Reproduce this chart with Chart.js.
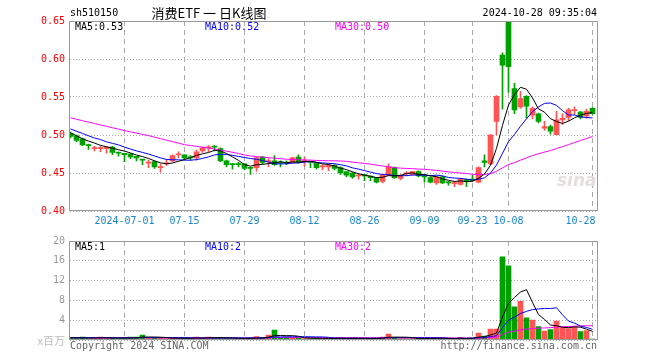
<!DOCTYPE html>
<html>
<head>
<meta charset="utf-8">
<script src="https://cdn.jsdelivr.net/npm/chart.js@4.4.1/dist/chart.umd.min.js"></script>
<style>
  body { margin:0; background:#fff; width:660px; height:360px; position:relative; overflow:hidden;
         font-family:"DejaVu Sans Mono", monospace; font-size:10px; }
  canvas { position:absolute; left:0; }
  .t { position:absolute; white-space:pre; line-height:10px; }
</style>
</head>
<body>
<canvas id="kline" width="660" height="232" style="top:0"></canvas>
<canvas id="vol" width="660" height="130" style="top:230px"></canvas>

<div class="t" style="left:70px;top:8px;color:#000">sh510150</div>
<div class="t" style="left:100px;width:218px;top:5px;line-height:15px;text-align:center;font-family:'Noto Sans CJK SC';font-size:13px;color:#000">消费ETF 一 日K线图</div>
<div class="t" style="right:63px;top:8px;color:#000">2024-10-28 09:35:04</div>
<div class="t" style="left:75px;top:22px;color:#000">MA5:0.53</div>
<div class="t" style="left:205px;top:22px;color:#0000ff">MA10:0.52</div>
<div class="t" style="left:335px;top:22px;color:#ff00ff">MA30:0.50</div>
<div class="t" style="left:557px;top:170px;font:italic bold 17px 'DejaVu Sans';color:#e6dede;line-height:20px">sina</div>

<div class="t" style="left:75px;top:242px;color:#000">MA5:1</div>
<div class="t" style="left:205px;top:242px;color:#0000ff">MA10:2</div>
<div class="t" style="left:335px;top:242px;color:#ff00ff">MA30:2</div>
<div class="t" style="right:595px;top:334px;line-height:12px;font-family:'Noto Sans CJK SC';font-size:11px;color:#bbb">x百万</div>
<div class="t" style="left:70px;top:341px;color:#666">Copyright 2024 SINA.COM</div>
<div class="t" style="right:63px;top:341px;color:#666">http://finance.sina.com.cn</div>

<script>
// 日K数据 2024-06-18 ~ 2024-10-28，共88个交易日
const tickIdx    = [9, 19, 29, 39, 49, 59, 67, 73, 87];
const tickLabels = ['2024-07-01', '07-15', '07-29', '08-12', '08-26', '09-09', '09-23', '10-08', '10-28'];

const openP = [
  .502,.499,.495,.487,.482,.482,.482,.484,.477,.476,
  .475,.472,.468,.463,.465,.457,.462,.466,.474,.474,
  .471,.470,.479,.483,.485,.482,.466,.462,.462,.462,
  .457,.457,.471,.465,.466,.464,.464,.464,.471,.465,
  .465,.463,.458,.458,.460,.457,.452,.450,.446,.448,
  .446,.444,.439,.447,.457,.443,.449,.448,.452,.446,
  .444,.437,.445,.438,.436,.435,.441,.442,.438,.466,
  .462,.518,.605,.650,.561,.537,.551,.526,.528,.509,
  .511,.5005,.520,.523,.532,.530,.525,.535
];
const closeP = [
  .498,.493,.487,.486,.483,.483,.484,.477,.476,.474,
  .471,.470,.467,.464,.458,.458,.463,.473,.475,.470,
  .470,.478,.483,.484,.484,.466,.461,.461,.461,.456,
  .456,.470,.464,.466,.461,.463,.463,.470,.464,.466,
  .464,.457,.459,.460,.456,.450,.447,.445,.447,.446,
  .444,.438,.447,.458,.444,.447,.450,.452,.446,.445,
  .438,.445,.437,.437,.437,.442,.440,.440,.457,.464,
  .500,.551,.592,.590,.533,.548,.538,.535,.518,.511,
  .505,.520,.522,.533,.533,.523,.531,.528
];
const highP = [
  .504,.500,.496,.488,.485,.485,.485,.485,.478,.476,
  .476,.472,.468,.467,.466,.462,.468,.474,.478,.474,
  .473,.480,.484,.486,.486,.483,.467,.462,.464,.462,
  .457,.471,.472,.469,.473,.466,.466,.471,.474,.471,
  .465,.464,.461,.462,.461,.458,.452,.451,.449,.448,
  .446,.444,.448,.462,.458,.448,.452,.452,.453,.447,
  .445,.446,.446,.439,.439,.443,.442,.447,.458,.474,
  .501,.552,.608,.651,.568,.557,.552,.537,.529,.518,
  .513,.531,.528,.535,.537,.531,.534,.536
];
const lowP = [
  .496,.491,.486,.481,.479,.478,.476,.474,.472,.465,
  .469,.466,.461,.457,.456,.451,.460,.465,.470,.468,
  .467,.467,.477,.478,.479,.465,.458,.455,.458,.454,
  .448,.452,.462,.458,.460,.458,.461,.463,.463,.459,
  .457,.455,.454,.453,.454,.448,.445,.443,.442,.440,
  .440,.437,.437,.446,.443,.441,.446,.447,.445,.438,
  .437,.435,.436,.434,.432,.434,.432,.439,.437,.458,
  .461,.500,.534,.556,.528,.535,.522,.521,.516,.506,
  .501,.500,.514,.519,.527,.521,.522,.527
];
const ma5 = [
  .503,.499,.495,.492,.4894,.4864,.4846,.4826,.4806,.4788,
  .4764,.4736,.4716,.4692,.466,.4634,.462,.4632,.4654,.4678,
  .4702,.4732,.4752,.477,.4798,.479,.4756,.4712,.4666,.461,
  .459,.4608,.4614,.4624,.4634,.4648,.4634,.4646,.4642,.4652,
  .4654,.4642,.462,.4612,.4592,.4564,.4544,.4516,.449,.447,
  .4458,.444,.4444,.4466,.4462,.4468,.4492,.4502,.4478,.448,
  .4462,.4452,.4422,.4404,.4388,.4396,.4386,.4392,.4432,.4486,
  .4602,.4824,.5128,.5394,.5532,.5628,.5602,.5488,.5344,.530,
  .5214,.5178,.5152,.5182,.5226,.5262,.5284,.5296
];
const ma10 = [
  .508,.505,.502,.499,.496,.494,.491,.489,.487,.4841,
  .4814,.4791,.4771,.4749,.4724,.4699,.4678,.4674,.4673,.4669,
  .4668,.4676,.4692,.4712,.4738,.4746,.4744,.4732,.4718,.4704,
  .469,.4682,.4663,.4645,.4622,.4619,.4621,.463,.4633,.4643,
  .4651,.4638,.4633,.4627,.4622,.4609,.4593,.4568,.4551,.4531,
  .4511,.4492,.448,.4478,.4466,.4463,.4466,.4473,.4472,.4471,
  .4465,.4472,.4462,.4441,.4434,.4429,.4419,.4407,.4418,.4437,
  .4499,.4605,.476,.4913,.5009,.5115,.5213,.5308,.5369,.5416,
  .5421,.539,.532,.5263,.5263,.5238,.5231,.5224
];
const ma30 = [
  .5226,.5207,.5188,.517,.5151,.5132,.5114,.5095,.5077,.5058,
  .5041,.5025,.5008,.4992,.4972,.4952,.4932,.4913,.4893,.4873,
  .4862,.4851,.484,.4829,.4815,.4801,.4787,.4773,.4756,.4738,
  .4724,.4716,.4709,.4702,.4695,.4688,.4681,.4679,.4675,.4672,
  .467,.4665,.4663,.4661,.4661,.4658,.4653,.4643,.4634,.4626,
  .4617,.4604,.4592,.4583,.457,.4564,.456,.4557,.4552,.4548,
  .4542,.4534,.4525,.4515,.4507,.45,.4493,.4483,.448,.448,
  .4492,.4523,.4567,.4611,.4636,.4669,.4699,.4729,.4753,.4775,
  .4795,.4822,.4847,.4872,.4902,.4927,.4954,.498
];

// 成交量（百万）
const volume = [
  .4,.4,.6,.3,.4,.6,.4,.4,.3,.4,
  .6,.6,1.0,.4,.4,.4,.3,.4,.3,.4,
  .3,.6,.4,.6,.4,.4,.4,.3,.3,.3,
  .4,.7,.4,1.0,2.0,.4,.6,.4,.4,.3,
  .3,.4,.3,.3,.4,.4,.3,.4,.3,.3,
  .3,.4,.6,1.2,.4,.3,.3,.3,.4,.3,
  .3,.4,.3,.3,.3,.5,.3,.4,1.4,.8,
  2.2,2.2,16.8,15.0,6.7,7.8,4.5,4.0,2.7,1.8,
  2.1,3.8,2.5,2.3,2.6,1.7,1.9,.2
];
const vma5 = [
  .45,.45,.44,.43,.42,.46,.46,.42,.42,.42,
  .42,.46,.58,.6,.6,.56,.5,.38,.36,.36,
  .34,.4,.4,.46,.46,.48,.44,.42,.36,.34,
  .34,.4,.42,.56,.9,.9,.88,.88,.76,.42,
  .4,.36,.34,.32,.34,.36,.34,.36,.36,.34,
  .32,.34,.38,.56,.58,.58,.56,.5,.34,.32,
  .32,.34,.34,.32,.32,.36,.34,.36,.58,.68,
  1.02,1.4,4.68,7.4,8.58,9.7,10.16,7.6,5.14,4.16,
  3.02,2.88,2.58,2.5,2.66,2.58,2.2,1.74
];
const vma10 = [
  .45,.45,.45,.44,.44,.44,.43,.43,.42,.42,
  .44,.46,.5,.51,.51,.49,.48,.48,.48,.48,
  .45,.45,.39,.41,.41,.41,.42,.41,.41,.4,
  .41,.42,.42,.46,.62,.62,.64,.65,.66,.66,
  .65,.62,.61,.54,.38,.38,.35,.35,.34,.34,
  .34,.34,.37,.46,.46,.45,.45,.44,.45,.45,
  .45,.45,.42,.33,.32,.34,.34,.35,.45,.5,
  .69,.87,2.52,3.99,4.63,5.36,5.78,6.14,6.27,6.37,
  6.36,6.52,5.09,3.82,3.41,2.8,2.54,2.16
];
const vma30 = [
  .46,.46,.46,.46,.46,.45,.45,.45,.45,.45,
  .45,.45,.45,.45,.45,.44,.44,.44,.44,.44,
  .44,.44,.44,.44,.44,.44,.43,.43,.43,.433,
  .433,.443,.437,.46,.513,.507,.513,.513,.517,.513,
  .503,.497,.473,.47,.47,.47,.47,.47,.47,.467,
  .467,.46,.467,.487,.487,.483,.48,.48,.483,.483,
  .48,.47,.467,.443,.387,.39,.38,.38,.413,.43,
  .493,.553,1.103,1.593,1.803,2.05,2.19,2.31,2.39,2.44,
  2.5,2.613,2.677,2.713,2.787,2.833,2.887,2.883
];

const RED = '#ff5454';
const GREEN = '#00a000';
const MONO = 'DejaVu Sans Mono';

const idx = closeP.map((_, i) => i);
const barColor = idx.map(i => closeP[i] >= openP[i] ? RED : GREEN);
const pts = arr => arr.map((v, i) => ({ x: i, y: v }));

// 外框
const frame = {
  id: 'frame',
  afterDatasetsDraw(chart) {
    const { ctx, chartArea: a } = chart;
    ctx.save();
    ctx.strokeStyle = '#9a9a9a';
    ctx.lineWidth = 1;
    ctx.strokeRect(Math.round(a.left) - 0.5, Math.round(a.top) + 0.5,
                   Math.round(a.right - a.left), Math.round(a.bottom - a.top) - 1);
    ctx.restore();
  }
};

// 最后一个日期标签靠右收一点，不出框
function tickText(v) {
  const k = tickIdx.indexOf(v);
  return k === tickIdx.length - 1 ? tickLabels[k] + '    ' : tickLabels[k];
}

function xScale(showLabels, h) {
  return {
    type: 'linear',
    offset: false,
    min: -0.0833,
    max: 87.833,
    afterBuildTicks: s => { s.ticks = tickIdx.map(v => ({ value: v })); },
    afterFit: s => { s.height = h; },
    grid: { color: '#aaa', lineWidth: 1, drawTicks: false, offset: false,
            borderDash: [5, 4] },
    border: { display: false, dash: [5, 4] },
    ticks: {
      display: showLabels,
      autoSkip: false,
      maxRotation: 0,
      padding: 4,
      color: '#1a88d0',
      font: { family: MONO, size: 10 },
      callback: tickText
    }
  };
}

function yScale(min, max, step, color, fmt) {
  return {
    min, max,
    afterFit: s => { s.width = 70; },
    grid: { color: '#aaa', drawTicks: false, borderDash: [1, 2] },
    border: { display: false, dash: [1, 2] },
    ticks: { stepSize: step, padding: 5, color, font: { family: MONO, size: 10 }, callback: fmt }
  };
}

const common = {
  responsive: false,
  animation: false,
  devicePixelRatio: 1,
  events: [],
  plugins: { legend: { display: false }, tooltip: { enabled: false } }
};

function line(data, color, order) {
  return { type: 'line', data: pts(data), borderColor: color, borderWidth: 1,
           pointRadius: 0, tension: 0, order };
}

new Chart(document.getElementById('kline'), {
  type: 'bar',
  data: {
    datasets: [
      { data: idx.map(i => ({ x: i, y: [lowP[i], highP[i]] })), backgroundColor: barColor,
        barThickness: 1, grouped: false, order: 4 },
      { data: idx.map(i => ({ x: i, y: [openP[i], closeP[i]] })), backgroundColor: barColor,
        barThickness: 5, minBarLength: 1, grouped: false, order: 3 },
      line(ma30, '#ff00ff', 2),
      line(ma10, '#0000ff', 1),
      line(ma5, '#000000', 0)
    ]
  },
  options: {
    ...common,
    layout: { autoPadding: false, padding: { left: 0, top: 21, right: 62.5, bottom: 0 } },
    scales: {
      x: xScale(true, 21),
      y: yScale(0.40, 0.65, 0.05, '#ff0000', v => v.toFixed(2))
    }
  },
  plugins: [frame]
});

new Chart(document.getElementById('vol'), {
  type: 'bar',
  data: {
    datasets: [
      { data: idx.map(i => ({ x: i, y: volume[i] })), backgroundColor: barColor,
        barThickness: 5, minBarLength: 1, grouped: false, order: 3 },
      line(vma30, '#ff00ff', 2),
      line(vma10, '#0000ff', 1),
      line(vma5, '#000000', 0)
    ]
  },
  options: {
    ...common,
    layout: { autoPadding: false, padding: { left: 0, top: 10, right: 62.5, bottom: 0 } },
    scales: {
      x: xScale(false, 20),
      y: yScale(0, 20, 4, '#999', v => v === 0 ? '' : v)
    }
  },
  plugins: [frame]
});
</script>
</body>
</html>
